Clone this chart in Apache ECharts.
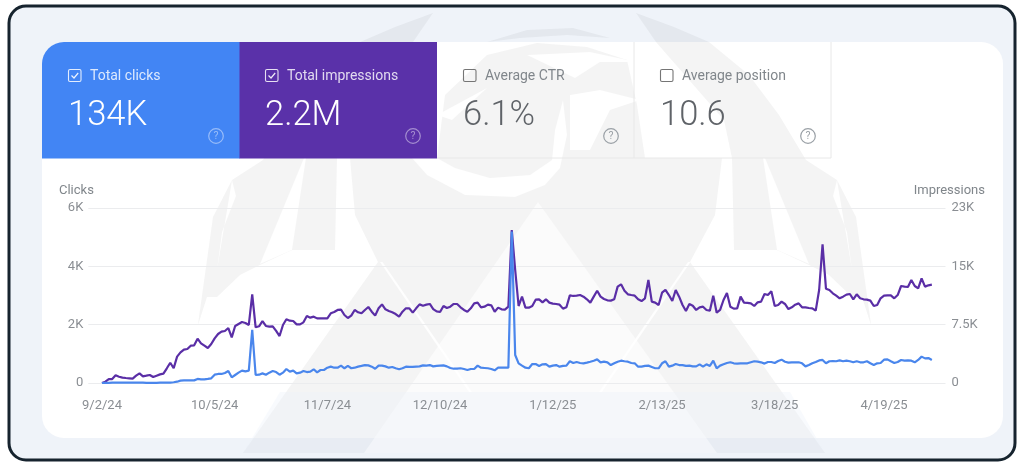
<!DOCTYPE html>
<html><head><meta charset="utf-8">
<style>html,body{margin:0;padding:0;background:#fff}#c{width:1024px;height:466px}</style>
<script src="https://cdn.jsdelivr.net/npm/echarts@6/dist/echarts.min.js"></script>
</head><body><div id="c"></div>
<script>
const startDate = '2024-09-02';
const tickLabels = ['9/2/24','10/5/24','11/7/24','12/10/24','1/12/25','2/13/25','3/18/25','4/19/25'];
const clickTicks = ['0','2K','4K','6K'];
const impressionTicks = ['0','7.5K','15K','23K'];
const clicks = [0,5,5,10,10,10,10,10,10,10,10,10,10,5,5,5,5,10,10,10,15,25,
45,80,90,90,90,90,140,125,125,140,160,285,310,310,345,410,195,275,355,425,400,425,1820,275,285,330,285,355,410,375,285,355,480,390,425,330,355,410,375,390,470,365,445,445,525,560,525,525,595,505,585,505,525,560,
585,615,605,560,490,595,595,570,525,550,505,470,505,560,550,550,560,570,605,595,615,570,585,595,605,570,515,490,490,505,480,445,480,480,595,525,515,505,480,435,525,525,525,525,5190,960,675,595,525,505,650,650,585,640,650,560,595,615,560,585,595,745,685,720,685,675,700,730,765,810,710,730,710,615,675,730,765,745,730,685,675,560,560,
585,595,550,505,505,675,745,560,595,650,615,615,585,595,570,570,640,560,640,585,765,505,595,640,685,710,675,665,675,675,675,710,745,730,710,665,720,720,685,755,800,730,700,710,710,710,675,570,615,675,720,775,790,675,745,755,745,775,745,765,745,710,745,710,710,745,675,615,675,685,800,810,745,685,720,790,765,775,765,710,790,905,845,855,790];
const impressions = [0,170,510,510,990,810,690,640,600,560,940,1240,860,940,1030,770,940,1110,1200,1890,2610,1890,3390,3940,4290,4370,4800,4840,5700,5100,4800,4500,5010,5740,6300,6600,6690,7070,5870,7330,7590,7840,7710,7460,11400,7160,7290,7970,7330,7240,7290,6690,6040,7460,8190,8010,7970,7540,7540,7800,8610,8400,8530,8310,8310,8310,8310,8960,9130,9390,9430,8740,8360,8660,9390,9090,
8960,9390,9770,9170,8660,9600,10110,9470,9260,9090,8870,8530,9170,9600,9600,9040,9600,10110,9940,10070,10160,9510,9210,9130,9900,9640,9810,10160,10160,9730,9390,9170,9600,10240,10330,9730,9810,10070,9990,9170,9690,9470,9430,9810,19670,14530,9900,11100,9690,9690,9900,10710,10760,10370,10760,10330,10200,10160,10070,9560,9730,11270,11190,11230,11310,11100,10760,10330,11100,11870,11100,10800,10630,10590,10760,12390,12690,11870,11400,11310,11230,10760,10540,
10890,13240,10460,10330,10030,11610,11960,11310,10540,11960,11100,10030,9260,10160,9940,9390,9730,9810,9390,9300,11230,9040,9390,10670,11570,9810,9560,9600,11100,10330,10290,10240,9900,10370,10460,11440,11310,11790,9900,10030,10460,10160,9510,9730,10070,10240,9730,9730,9640,9600,9300,11960,17830,12130,11960,11530,11230,10890,11100,11360,11440,10760,11400,10890,10760,10720,10590,9900,10030,10890,11230,11270,11270,10890,11310,12470,12390,12340,13240,12470,12170,13460,12390,12560,12640];
const metricNames = ['Total clicks','Total impressions','Average CTR','Average position'];
const metricValues = ['134K','2.2M','6.1%','10.6'];
const BLANK_DAYS = 4;

const dayNames = [];
{ const d0 = new Date(startDate+'T00:00:00Z');
  for (let i=0;i<clicks.length;i++){
    const d = new Date(d0.getTime()+i*864e5);
    dayNames.push((d.getUTCMonth()+1)+'/'+d.getUTCDate()+'/'+String(d.getUTCFullYear()).slice(2));
  } }
const pad = Array(BLANK_DAYS).fill(null);
const cats = [...pad.map((_,i)=>' '.repeat(i+1)), ...dayNames, ...pad.map((_,i)=>'  '.repeat(i+6))];
const sClicks = [...pad, ...clicks];
const sImpr = [...pad, ...impressions];

const FONT = 'Roboto';
const g = [];
const poly = (pts,fill,z=-8)=>g.push({type:'polygon',silent:true,z,shape:{points:pts},style:{fill}});
const mirror = pts=>pts.map(([x,y])=>[1069-x,y]);
const GREY='rgba(60,60,70,0.06)', CUT='rgba(255,255,255,0.92)';

g.push({type:'rect',silent:true,z:-12,shape:{x:9,y:6,width:1006,height:454,r:17},style:{fill:'#eff3f9',stroke:'#16232e',lineWidth:3}});
g.push({type:'rect',silent:true,z:-11,shape:{x:42,y:42,width:961,height:396,r:22},style:{fill:'#ffffff'}});
// watermark: wings, feathers and head
const wing=[[433,13],[395,27],[360,42],[320,75],[290,115],[263,160],[232,180],[213,217],[200,310],[198,325],[207,297],[217,297],[240,275],[260,265],[292,250],[335,250],[337,158],[345,120],[413,42]];
poly(wing,GREY); poly(mirror(wing),GREY);
const slash1=[[232,180],[227,210],[217,270],[222,232],[236,196]];
const slash2=[[304,158],[260,264],[292,250],[306,158]];
poly(slash1,CUT,-7); poly(mirror(slash1),CUT,-7);
poly(slash2,CUT,-7); poly(mirror(slash2),CUT,-7);
poly([[350,158],[355,215],[378,262],[243,453],[825,453],[690,262],[715,215],[722,158],[645,158],[637,105],[627,60],[587,47],[537,43],[487,55],[445,95],[437,158]],GREY);
poly([[487,42],[527,30],[573,28],[610,38],[567,35],[520,38]],GREY);
poly([[412,158],[427,175],[465,195],[515,197],[545,185],[560,168],[567,135],[563,100],[555,130],[552,160],[530,175],[490,178],[455,168],[437,158]],CUT,-7);
poly([[527,55],[590,52],[637,62],[600,62],[575,78]],CUT,-7);
poly([[570,95],[600,90],[640,100],[610,110],[590,150],[570,150]],CUT,-7);
poly([[437,115],[487,88],[452,120]],CUT,-7);
poly([[538,202],[364,453],[717,453]],'rgba(255,255,255,0.62)',-7);
poly([[380,262],[382.5,262],[472,392],[469,392]],'rgba(255,255,255,0.9)',-7);
poly([[688,262],[690.5,262],[602,392],[599,392]],'rgba(255,255,255,0.9)',-7);
poly([[243,453],[825,453],[790,392],[280,392]],'rgba(238,243,251,0.4)',-6);

// cards
g.push({type:'rect',silent:true,z:-5,shape:{x:42,y:42,width:198,height:116.5,r:[22,0,0,0]},style:{fill:'#4285f4'}});
g.push({type:'rect',silent:true,z:-5,shape:{x:239.5,y:42,width:197.5,height:116.5},style:{fill:'#5a31a9'}});
g.push({type:'polyline',silent:true,z:-5,shape:{points:[[437,158],[831,158],[831,42]]},style:{fill:'none',stroke:'#e8e8e8',lineWidth:1}});
g.push({type:'line',silent:true,z:-5,shape:{x1:634,y1:42,x2:634,y2:158},style:{stroke:'#e8e8e8',lineWidth:1}});
const cardX=[69,266,464,661];
const txt=(x,y,text,fill,font,align='left')=>g.push({type:'text',silent:true,z:5,x,y,style:{text,fill,font,align,verticalAlign:'middle'}});
metricNames.forEach((n,i)=>{
  const on=i<2, x=cardX[i];
  const lc=on?'rgba(255,255,255,0.82)':'#80868b', vc=on?'#ffffff':'#5f6368';
  const ic=on?'rgba(255,255,255,0.45)':'#9aa0a6';
  g.push({type:'rect',silent:true,z:5,shape:{x:x-.5,y:69.5,width:12.5,height:12,r:1.5},style:{fill:'none',stroke:on?'rgba(255,255,255,0.85)':'#757575',lineWidth:1.1}});
  if(on) g.push({type:'polyline',silent:true,z:5,shape:{points:[[x+2.5,75.5],[x+5,78],[x+9.2,73]]},style:{fill:'none',stroke:'rgba(255,255,255,0.9)',lineWidth:1.2}});
  txt(x+21,76.5,n,lc,'14px '+FONT);
  txt(x-1,116,metricValues[i],vc,'300 34.5px '+FONT);
  g.push({type:'circle',silent:true,z:5,shape:{cx:x+147,cy:136,r:7.3},style:{fill:'none',stroke:ic,lineWidth:1.2}});
  txt(x+147,136.5,'?',ic,'10.5px '+FONT,'center');
});
txt(59,191,'Clicks','#80868b','13px '+FONT);
txt(985,191,'Impressions','#80868b','13px '+FONT,'right');

const axisLabel={color:'#8a8e93',fontFamily:FONT,fontSize:13};
const chart=echarts.init(document.getElementById('c'),null,{renderer:'canvas'});
chart.setOption({
  animation:false,
  graphic:{elements:g},
  grid:{left:88.3,right:78.5,top:208,height:175},
  xAxis:{type:'category',boundaryGap:false,data:cats,
    axisLine:{show:false},axisTick:{show:false},splitLine:{show:false},
    axisLabel:{...axisLabel,margin:16,interval:(i,name)=>tickLabels.includes(name)}},
  yAxis:[
    {type:'value',min:0,max:6000,interval:2000,position:'left',
     axisLine:{show:false},axisTick:{show:false},
     splitLine:{show:true,lineStyle:{color:'#ebecee',width:1}},
     axisLabel:{...axisLabel,margin:5,padding:[2,0,0,0],formatter:v=>clickTicks[v/2000]}},
    {type:'value',min:0,max:22500,interval:7500,position:'right',
     axisLine:{show:false},axisTick:{show:false},splitLine:{show:false},
     axisLabel:{...axisLabel,margin:6,padding:[2,0,0,0],formatter:v=>impressionTicks[v/7500]}}
  ],
  series:[
    {name:'Impressions',type:'line',yAxisIndex:1,data:sImpr,showSymbol:false,symbol:'none',lineStyle:{color:'#5a2ea6',width:2.2},itemStyle:{color:'#5a2ea6'},z:3},
    {name:'Clicks',type:'line',yAxisIndex:0,data:sClicks,showSymbol:false,symbol:'none',lineStyle:{color:'#4a86ec',width:2.2},itemStyle:{color:'#4a86ec'},z:4}
  ]
});
</script></body></html>
